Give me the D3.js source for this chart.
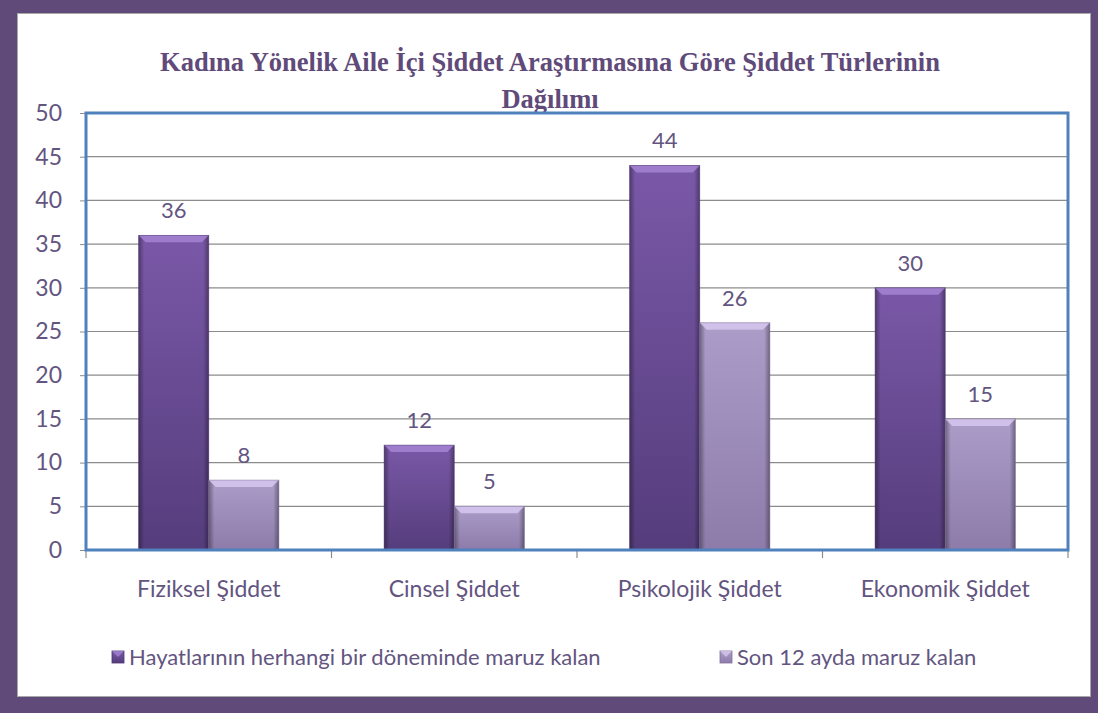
<!DOCTYPE html>
<html><head><meta charset="utf-8">
<script src="https://cdn.jsdelivr.net/npm/d3@7"></script>
<style>html,body{margin:0;padding:0;background:#5f4a7a;}svg{display:block;}</style>
</head><body>
<svg id="c" width="1098" height="713"></svg>
<script>
const categories = ["Fiziksel Şiddet", "Cinsel Şiddet", "Psikolojik Şiddet", "Ekonomik Şiddet"];
const seriesNames = ["Hayatlarının herhangi bir döneminde maruz kalan", "Son 12 ayda maruz kalan"];
const lifetime = [36, 12, 44, 30];
const last12 = [8, 5, 26, 15];
const yTicks = [0, 5, 10, 15, 20, 25, 30, 35, 40, 45, 50];
const titleLines = ["Kadına Yönelik Aile İçi Şiddet Araştırmasına Göre Şiddet Türlerinin", "Dağılımı"];

const svg = d3.select("#c");
const W = 1098, H = 713;
const txt = "#63557f";
const fontS = "Lato, 'Open Sans', sans-serif";

svg.append("rect").attr("x",0).attr("y",0).attr("width",W).attr("height",H).attr("fill","#5f4a7a");
svg.append("rect").attr("x",17.5).attr("y",13.5).attr("width",1073).attr("height",683).attr("fill","#fff").attr("stroke","#a8a8a8").attr("stroke-width",1);

const defs = svg.append("defs");
function grad(id, stops){
  const g = defs.append("linearGradient").attr("id",id).attr("x1",0).attr("y1",0).attr("x2",0).attr("y2",1);
  stops.forEach(s=>g.append("stop").attr("offset",s[0]).attr("stop-color",s[1]));
}
grad("g0", [[0,"#7a58a8"],[1,"#553d7c"]]);
grad("g1", [[0,"#ab9cc8"],[1,"#8d7caa"]]);
const sideGrad = (id,c1,c2)=>{
  const g = defs.append("linearGradient").attr("id",id).attr("x1",0).attr("y1",0).attr("x2",1).attr("y2",0);
  g.append("stop").attr("offset",0).attr("stop-color",c1).attr("stop-opacity",0.35);
  g.append("stop").attr("offset",0.08).attr("stop-color",c1).attr("stop-opacity",0);
  g.append("stop").attr("offset",0.92).attr("stop-color",c2).attr("stop-opacity",0);
  g.append("stop").attr("offset",1).attr("stop-color",c2).attr("stop-opacity",0.35);
};
sideGrad("sd","#000","#000");

const x0 = 86, x1 = 1068, yTop = 113, yBot = 550;
const x = d3.scaleBand().domain(categories).range([x0, x1]).paddingInner(0.4285).paddingOuter(0.2143);
const xs = d3.scaleBand().domain([0,1]).range([0, x.bandwidth()]);
const y = d3.scaleLinear().domain([0, 50]).range([yBot, yTop]);

// title
svg.append("g").selectAll("text").data(titleLines).join("text")
  .attr("x", 550).attr("y",(d,i)=>71 + i*37).attr("text-anchor","middle")
  .attr("font-family","'Liberation Serif', 'Times New Roman', serif").attr("font-weight","bold")
  .attr("font-size",26.5).attr("fill","#5f4a7a").text(d=>d);

// gridlines
svg.append("g").selectAll("line").data(yTicks.filter(t=>t>0 && t<50)).join("line")
  .attr("x1",x0).attr("x2",x1).attr("y1",d=>y(d)).attr("y2",d=>y(d))
  .attr("stroke","#8c8c8c").attr("stroke-width",1.2);

// y axis
const yAx = svg.append("g").attr("transform",`translate(${x0},0)`)
  .call(d3.axisLeft(y).tickValues(yTicks).tickSize(6).tickPadding(18));
yAx.select(".domain").remove();
yAx.selectAll("line").attr("stroke","#8c8c8c");
yAx.selectAll("text").attr("font-family",fontS).attr("font-size",23).attr("fill",txt);

// x axis ticks (boundaries)
const bounds = d3.range(categories.length+1).map(i=>x0 + i*(x1-x0)/categories.length);
svg.append("g").selectAll("line").data(bounds).join("line")
  .attr("x1",d=>d).attr("x2",d=>d).attr("y1",yBot).attr("y2",yBot+8)
  .attr("stroke","#8c8c8c").attr("stroke-width",1.2);

// bars
const data = [];
categories.forEach((c,i)=>{
  data.push({c, s:0, v:lifetime[i]});
  data.push({c, s:1, v:last12[i]});
});
const bars = svg.append("g").selectAll("g").data(data).join("g")
  .attr("transform",d=>`translate(${x(d.c)+xs(d.s)},${y(d.v)})`);
bars.append("rect").attr("width",xs.bandwidth()).attr("height",d=>yBot-y(d.v))
  .attr("fill",d=>`url(#g${d.s})`);
bars.append("rect").attr("width",xs.bandwidth()).attr("height",d=>yBot-y(d.v))
  .attr("fill","url(#sd)");
// top bevel
bars.append("path").attr("d",d=>{const w=xs.bandwidth(), b=7; return `M0,0 L${w},0 L${w-b},${b} L${b},${b} Z`;})
  .attr("fill",d=>d.s===0?"#a384d2":"#d6c8ee").attr("opacity",0.85);
bars.append("rect").attr("width",xs.bandwidth()).attr("height",d=>yBot-y(d.v))
  .attr("fill","none").attr("stroke",d=>d.s===0?"#4b3670":"#7f7098").attr("stroke-width",0.8).attr("stroke-opacity",0.6);

// value labels
svg.append("g").selectAll("text").data(data).join("text")
  .attr("x",d=>x(d.c)+xs(d.s)+xs.bandwidth()/2).attr("y",d=>y(d.v)-17)
  .attr("text-anchor","middle").attr("font-family",fontS).attr("font-size",22).attr("fill",txt)
  .text(d=>d.v);

// plot border
svg.append("rect").attr("x",x0).attr("y",yTop).attr("width",x1-x0).attr("height",yBot-yTop)
  .attr("fill","none").attr("stroke","#4f81bd").attr("stroke-width",3);

// category labels
svg.append("g").selectAll("text").data(categories).join("text")
  .attr("x",d=>x(d)+x.bandwidth()/2).attr("y",597).attr("text-anchor","middle")
  .attr("font-family",fontS).attr("font-size",23).attr("fill",txt).text(d=>d);

// legend
const legX = [112, 720];
const lg = svg.append("g").selectAll("g").data(seriesNames).join("g")
  .attr("transform",(d,i)=>`translate(${legX[i]},651)`);
lg.append("rect").attr("width",12).attr("height",12).attr("fill",(d,i)=>`url(#g${i})`)
  .attr("stroke",(d,i)=>i===0?"#4b3670":"#7f7098").attr("stroke-width",0.8);
lg.append("path").attr("d","M0,0 L12,0 L6,6 Z").attr("fill",(d,i)=>i===0?"#a384d2":"#d6c8ee").attr("opacity",0.8);
lg.append("text").attr("x",17).attr("y",14).attr("font-family",fontS).attr("font-size",22).attr("fill",txt).text(d=>d);
</script>
</body></html>
